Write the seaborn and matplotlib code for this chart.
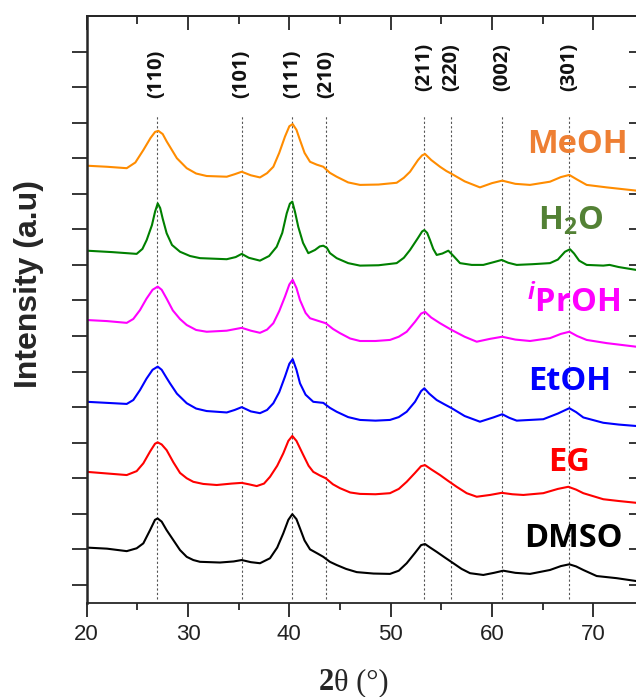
import numpy as np
import pandas as pd
import matplotlib
matplotlib.use("Agg")
import matplotlib.pyplot as plt
import seaborn as sns

sns.set_style("ticks")
plt.rcParams['font.family'] = ['Liberation Sans', 'DejaVu Sans']
plt.rcParams['mathtext.fontset'] = 'custom'
plt.rcParams['mathtext.rm'] = 'Open Sans:bold'
plt.rcParams['mathtext.bf'] = 'Open Sans:bold'
plt.rcParams['mathtext.it'] = 'Open Sans:bold:italic'

# ---------------- data ----------------
dmso_x = [20.0, 22.0, 23.95, 24.93, 25.59, 26.25, 26.74, 27.0, 27.40, 27.89, 28.55, 29.21, 29.87, 30.52,
          31.18, 33.15, 34.5, 35.30, 36.2, 37.10, 38.09, 38.8, 39.40, 39.9, 40.29, 40.7, 41.05, 41.5,
          42.04, 42.8, 43.35, 44.0, 44.67, 45.6, 46.65, 48.3, 49.93, 50.8, 51.58, 52.4, 53.0, 53.39,
          53.9, 54.54, 55.3, 56.18, 57.0, 57.83, 59.14, 60.2, 61.11, 62.3, 63.75, 65.72, 66.8, 67.63,
          68.3, 69.01, 70.33, 72.30, 74.21]
dmso_y = [1.55, 1.52, 1.45, 1.53, 1.67, 2.04, 2.33, 2.37, 2.28, 2.04, 1.76, 1.48, 1.29, 1.20,
          1.15, 1.13, 1.16, 1.20, 1.14, 1.11, 1.25, 1.55, 1.95, 2.33, 2.49, 2.35, 2.09, 1.75,
          1.50, 1.38, 1.29, 1.15, 1.06, 0.95, 0.86, 0.82, 0.81, 0.90, 1.11, 1.40, 1.62, 1.65,
          1.55, 1.43, 1.28, 1.11, 0.95, 0.83, 0.78, 0.84, 0.90, 0.84, 0.81, 0.92, 1.03, 1.08,
          1.02, 0.92, 0.75, 0.69, 0.61]

eg_x = [20.0, 23.95, 24.93, 25.59, 26.25, 26.74, 27.0, 27.40, 27.89, 28.55, 29.21, 29.87, 30.52, 31.5,
        32.83, 34.3, 35.30, 36.0, 36.78, 37.5, 38.09, 38.8, 39.40, 39.9, 40.29, 40.7, 41.38, 41.9,
        42.36, 43.0, 43.59, 44.3, 45.00, 46.0, 46.97, 48.5, 49.93, 50.8, 51.58, 52.4, 53.0, 53.39,
        54.0, 54.87, 55.7, 56.51, 57.5, 58.49, 59.8, 60.96, 62.0, 63.09, 65.06, 66.5, 67.53, 68.3,
        69.01, 70.98, 72.5, 74.21]
eg_y = [3.68, 3.59, 3.70, 3.92, 4.25, 4.47, 4.51, 4.45, 4.29, 3.95, 3.65, 3.50, 3.40, 3.34,
        3.31, 3.35, 3.37, 3.33, 3.28, 3.35, 3.54, 3.85, 4.20, 4.55, 4.69, 4.55, 4.15, 3.85,
        3.68, 3.58, 3.50, 3.33, 3.22, 3.10, 3.06, 3.05, 3.08, 3.20, 3.40, 3.65, 3.84, 3.87,
        3.75, 3.59, 3.42, 3.26, 3.08, 2.98, 3.03, 3.09, 3.05, 3.03, 3.08, 3.20, 3.26, 3.18,
        3.08, 2.91, 2.86, 2.81]

etoh_x = [20.0, 22.0, 23.95, 24.6, 25.26, 25.9, 26.5, 27.01, 27.4, 27.89, 28.22, 28.9, 29.87, 30.8,
          31.84, 33.82, 34.6, 35.30, 36.2, 37.10, 37.8, 38.42, 39.0, 39.57, 40.0, 40.33, 40.7, 41.05,
          41.6, 42.36, 43.0, 43.35, 44.0, 44.67, 45.8, 46.97, 48.5, 49.93, 50.8, 51.58, 52.4, 53.0,
          53.32, 53.8, 54.54, 55.3, 56.02, 57.3, 58.81, 60.13, 61.01, 61.7, 62.44, 65.06, 66.5, 67.63,
          68.3, 69.01, 70.98, 72.5, 74.21]
etoh_y = [5.65, 5.62, 5.59, 5.70, 5.98, 6.30, 6.55, 6.64, 6.55, 6.32, 6.17, 5.88, 5.61, 5.46,
          5.39, 5.35, 5.42, 5.50, 5.38, 5.33, 5.42, 5.61, 5.92, 6.36, 6.72, 6.85, 6.55, 6.17,
          5.85, 5.65, 5.63, 5.62, 5.48, 5.37, 5.22, 5.14, 5.12, 5.14, 5.22, 5.37, 5.65, 5.95,
          6.03, 5.88, 5.70, 5.58, 5.47, 5.25, 5.09, 5.21, 5.30, 5.20, 5.12, 5.16, 5.32, 5.47,
          5.36, 5.21, 5.06, 5.01, 4.97]

iproh_x = [20.0, 22.0, 23.95, 24.6, 25.26, 25.9, 26.5, 27.01, 27.4, 27.89, 28.5, 29.2, 29.87, 30.8,
           31.84, 33.82, 35.30, 36.2, 37.10, 37.8, 38.42, 39.0, 39.57, 40.0, 40.33, 40.7, 41.05, 41.6,
           42.04, 42.8, 43.59, 44.3, 45.00, 46.0, 46.97, 48.5, 49.93, 50.8, 51.58, 52.4, 53.0, 53.39,
           54.0, 54.87, 56.02, 57.3, 58.49, 59.8, 61.01, 62.3, 63.75, 65.72, 66.8, 67.63, 68.4, 69.34,
           71.32, 74.21]
iproh_y = [7.95, 7.92, 7.87, 7.98, 8.23, 8.55, 8.80, 8.89, 8.80, 8.55, 8.22, 7.98, 7.81, 7.67,
           7.62, 7.65, 7.73, 7.65, 7.59, 7.68, 7.86, 8.20, 8.61, 8.95, 9.08, 8.85, 8.51, 8.15,
           8.00, 7.93, 7.86, 7.70, 7.58, 7.43, 7.36, 7.36, 7.39, 7.48, 7.62, 7.90, 8.13, 8.18,
           8.02, 7.86, 7.67, 7.48, 7.34, 7.42, 7.48, 7.40, 7.36, 7.44, 7.56, 7.62, 7.50, 7.39,
           7.30, 7.20]

h2o_x = [20.0, 22.5, 24.93, 25.5, 25.92, 26.44, 26.75, 27.01, 27.25, 27.5, 27.89, 28.42, 29.21, 30.2,
         31.18, 33.82, 34.7, 35.30, 36.0, 37.10, 38.0, 38.75, 39.3, 39.74, 40.05, 40.29, 40.55, 40.88,
         41.35, 41.87, 42.53, 43.0, 43.35, 43.7, 44.01, 44.67, 45.8, 46.97, 48.8, 50.59, 51.3, 51.91,
         52.70, 53.1, 53.32, 53.6, 53.88, 54.2, 54.54, 55.1, 55.69, 56.2, 56.84, 58.0, 59.14, 60.2,
         60.96, 61.6, 62.44, 64.0, 65.72, 66.5, 67.2, 67.70, 68.1, 68.6, 69.34, 70.98, 71.6, 72.5,
         74.21]
h2o_y = [9.90, 9.86, 9.81, 9.95, 10.20, 10.62, 11.00, 11.23, 11.10, 10.80, 10.39, 10.06, 9.87, 9.75,
         9.69, 9.66, 9.72, 9.81, 9.70, 9.62, 9.75, 10.01, 10.40, 10.95, 11.22, 11.28, 11.00, 10.57,
         10.12, 9.83, 9.92, 10.02, 10.04, 9.98, 9.83, 9.69, 9.55, 9.48, 9.49, 9.55, 9.70, 9.92,
         10.26, 10.44, 10.48, 10.40, 10.20, 9.95, 9.78, 9.82, 9.90, 9.75, 9.55, 9.50, 9.50, 9.58,
         9.64, 9.56, 9.50, 9.52, 9.55, 9.65, 9.87, 9.94, 9.82, 9.62, 9.50, 9.48, 9.50, 9.44,
         9.36]

meoh_x = [20.0, 22.0, 23.95, 24.8, 25.59, 26.3, 26.75, 27.07, 27.5, 27.9, 28.22, 28.9, 29.87, 30.8,
          31.84, 33.82, 34.6, 35.30, 36.2, 37.10, 37.8, 38.42, 39.0, 39.57, 40.0, 40.33, 40.7, 41.05,
          41.5, 42.04, 42.7, 43.35, 44.0, 44.67, 45.8, 46.97, 48.8, 50.59, 51.3, 51.91, 52.7, 53.1,
          53.39, 54.0, 54.87, 55.5, 56.02, 57.3, 58.81, 60.0, 61.01, 62.3, 63.75, 65.72, 66.8, 67.63,
          68.4, 69.34, 71.32, 74.21]
meoh_y = [12.29, 12.26, 12.22, 12.38, 12.73, 13.07, 13.24, 13.27, 13.18, 12.97, 12.82, 12.50, 12.22, 12.07,
          12.00, 11.98, 12.05, 12.12, 12.02, 11.96, 12.08, 12.26, 12.65, 13.11, 13.40, 13.46, 13.30, 13.01,
          12.65, 12.40, 12.32, 12.26, 12.09, 11.98, 11.82, 11.75, 11.76, 11.81, 11.95, 12.12, 12.45, 12.58,
          12.62, 12.45, 12.26, 12.14, 12.06, 11.85, 11.68, 11.80, 11.87, 11.78, 11.75, 11.84, 11.97, 12.03,
          11.90, 11.75, 11.68, 11.59]

samples = ["DMSO", "EG", "EtOH", "iPrOH", "H2O", "MeOH"]
line_colors = ["#000000", "#FF0000", "#0000FF", "#FF00FF", "#008000", "#FF8C00"]
text_colors = ["#000000", "#FF0000", "#0000FF", "#FF00FF", "#538135", "#EE7F33"]
label_texts = ["DMSO", "EG", "EtOH", r"$^{\mathit{i}}$PrOH", r"H$_{\mathbf{2}}$O", "MeOH"]
label_x = [67.99, 67.6, 67.7, 68.09, 67.8, 68.39]
label_y = [1.57, 3.70, 5.98, 8.15, 10.48, 12.65]

peak_pos = [26.9, 35.3, 40.25, 43.6, 53.3, 56.0, 61.0, 67.6]
peak_labels = ["(110)", "(101)", "(111)", "(210)", "(211)", "(220)", "(002)", "(301)"]
peak_label_y = [14.87, 14.87, 14.87, 14.87, 15.06, 15.06, 15.06, 15.06]

x_ticks = [20, 30, 40, 50, 60, 70]

# ---------------- build long table ----------------
xs = [dmso_x, eg_x, etoh_x, iproh_x, h2o_x, meoh_x]
ys = [dmso_y, eg_y, etoh_y, iproh_y, h2o_y, meoh_y]
frames = []
for name, x, y in zip(samples, xs, ys):
    frames.append(pd.DataFrame({"two_theta": x, "intensity": y, "sample": name}))
df = pd.concat(frames, ignore_index=True)

# ---------------- figure ----------------
fig = plt.figure(figsize=(6.36, 6.97), dpi=100)
ax = fig.add_axes([86.7 / 636, 94.3 / 697, (644 - 86.7) / 636, 586.7 / 697])

sns.lineplot(data=df, x="two_theta", y="intensity", hue="sample", hue_order=samples,
             palette=line_colors, sort=False, estimator=None, legend=False,
             linewidth=1.5, ax=ax)

ax.set_xlim(20, 75)
ax.set_ylim(0, 16.5)

for p in peak_pos:
    ax.plot([p, p], [0.1, 13.71], color="#555555", lw=0.8, ls=(0, (2, 2)), zorder=0)
for p, t, yy in zip(peak_pos, peak_labels, peak_label_y):
    ax.text(p, yy, t, rotation=90, ha="center", va="center", fontsize=14.5, color="#111111",
            fontweight="bold", family=["Open Sans", "Liberation Sans"])

for t, c, lx, ly in zip(label_texts, text_colors, label_x, label_y):
    ax.text(lx, ly, t, color=c, ha="center", va="baseline", fontsize=23.5,
            fontweight="bold", family=["Open Sans", "DejaVu Sans"])

# ticks
ax.set_xticks(x_ticks)
ax.set_xticks([25, 35, 45, 55, 65, 75], minor=True)
ax.set_yticks(np.arange(0.5, 16, 1.0))
ax.tick_params(axis="x", which="major", direction="out", length=10, width=1.3,
               labelsize=16, pad=5, top=False, colors="#222222")
ax.tick_params(axis="x", which="minor", direction="out", length=5, width=1.3, top=False)
ax.tick_params(axis="y", which="both", direction="out", length=11, width=1.3,
               right=False, labelleft=False)
ax.set_xticklabels([str(v) for v in x_ticks])

sec_x = ax.secondary_xaxis("top")
sec_x.set_xticks(x_ticks)
sec_x.set_xticks([25, 35, 45, 55, 65, 75], minor=True)
sec_x.tick_params(axis="x", which="major", direction="in", length=10, width=1.3, labeltop=False)
sec_x.tick_params(axis="x", which="minor", direction="in", length=6, width=1.3, labeltop=False)
sec_x.spines["top"].set_linewidth(1.3)

sec_y = ax.secondary_yaxis("right")
sec_y.set_yticks(np.arange(0.5, 16, 1.0))
sec_y.tick_params(axis="y", which="both", direction="in", length=11, width=1.3, labelright=False)

for s in ax.spines.values():
    s.set_linewidth(1.3)
ax.spines["left"].set_linewidth(1.8)

ax.set_xlabel("")
ax.set_ylabel("Intensity (a.u)", fontsize=23, fontweight="bold")
ax.yaxis.set_label_coords(-0.076, 0.543)

ax.text(0.4437, -0.1488, "2", transform=ax.transAxes, ha="right", va="baseline",
        fontsize=22, fontweight="bold", family=["Liberation Serif"])
ax.text(0.4437, -0.1488, "θ (°)", transform=ax.transAxes, ha="left", va="baseline",
        fontsize=22, family=["Liberation Serif"])

fig.savefig("out.png", dpi=100)
